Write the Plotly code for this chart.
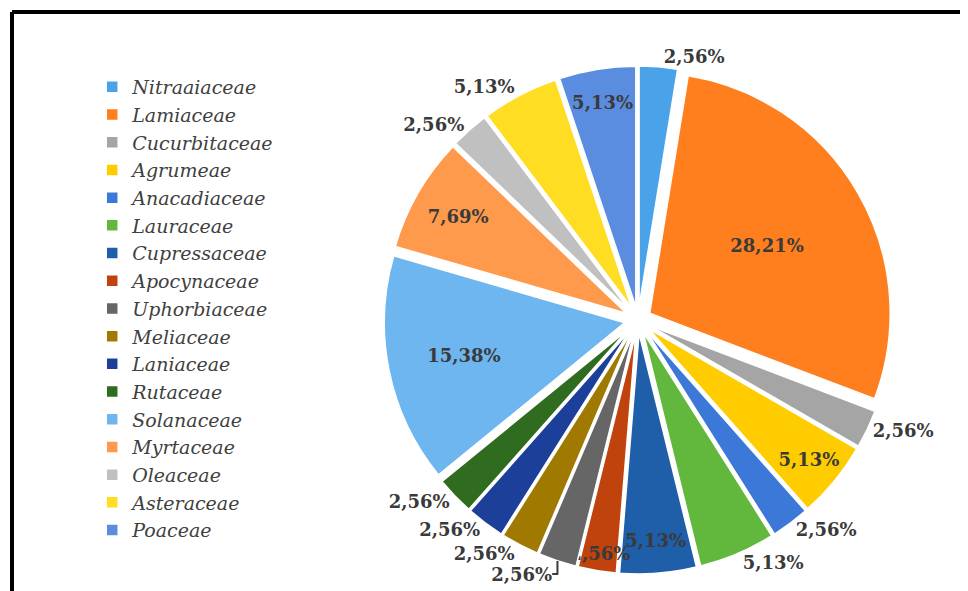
import plotly.graph_objects as go

families = ["Nitraaiaceae", "Lamiaceae", "Cucurbitaceae", "Agrumeae", "Anacadiaceae",
            "Lauraceae", "Cupressaceae", "Apocynaceae", "Uphorbiaceae", "Meliaceae",
            "Laniaceae", "Rutaceae", "Solanaceae", "Myrtaceae", "Oleaceae",
            "Asteraceae", "Poaceae"]
percent = [2.56, 28.21, 2.56, 5.13, 2.56, 5.13, 5.13, 2.56, 2.56, 2.56,
           2.56, 2.56, 15.38, 7.69, 2.56, 5.13, 5.13]
colors = ["#4aa3e8", "#ff7f1e", "#a5a5a5", "#ffcc00", "#3b78d8", "#62b83c", "#1f5ea8",
          "#c0420c", "#666666", "#a07a00", "#1c3f99", "#2f6c1f", "#6db6f0", "#ff9a4d",
          "#c0c0c0", "#ffdd22", "#5a8de0"]
label_pos = ["outside", "inside", "outside", "inside", "outside", "outside", "inside",
             "inside", "outside", "outside", "outside", "outside", "inside", "inside",
             "outside", "outside", "inside"]

texts = [f"{v:.2f}%".replace(".", ",") for v in percent]

W, H = 968, 591
cx, cy, half = 630, 312, 254

fig = go.Figure(go.Pie(
    labels=families,
    values=percent,
    text=texts,
    textinfo="text",
    textposition=label_pos,
    insidetextorientation="horizontal",
    sort=False,
    direction="clockwise",
    rotation=0,
    pull=0.056,
    automargin=False,
    marker=dict(colors=colors, line=dict(color="white", width=1.5)),
    textfont=dict(family="DejaVu Serif", size=18, color="#3a3a3a", weight="bold"),
    domain=dict(x=[(cx - half) / W, (cx + half) / W],
                y=[(H - (cy + half)) / H, (H - (cy - half)) / H]),
    hoverinfo="label+percent",
))

fig.update_layout(
    width=W, height=H, autosize=False,
    margin=dict(l=0, r=0, t=0, b=0, autoexpand=False),
    paper_bgcolor="white",
    showlegend=True,
    uniformtext=dict(minsize=18, mode="show"),
    legend=dict(
        x=0.087, y=1 - 60 / H, xanchor="left", yanchor="top",
        font=dict(family="DejaVu Serif", size=19, color="#404040", style="italic"),
        bgcolor="rgba(0,0,0,0)",
    ),
    shapes=[
        dict(type="line", xref="paper", yref="paper", x0=4 / W, x1=1.02,
             y0=1 - 4 / H, y1=1 - 4 / H, line=dict(color="black", width=4)),
        dict(type="line", xref="paper", yref="paper", x0=4 / W, x1=4 / W,
             y0=-0.05, y1=1 - 4 / H, line=dict(color="black", width=4)),
    ],
)

fig.write_html("out.html")
